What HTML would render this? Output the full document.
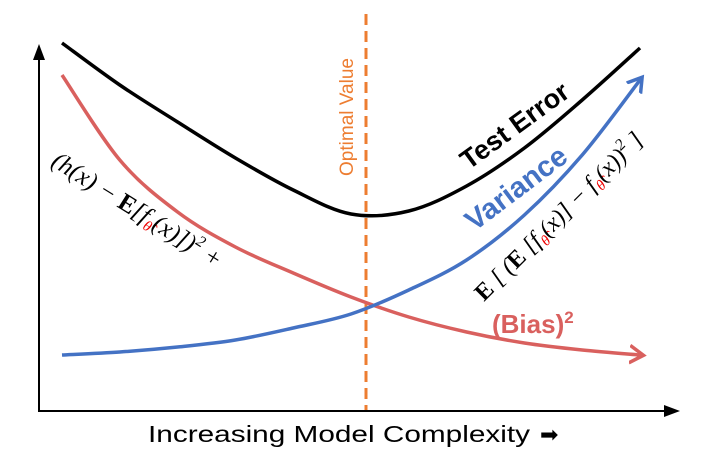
<!DOCTYPE html>
<html><head><meta charset="utf-8"><style>
html,body{margin:0;padding:0;background:#fff;}
svg{display:block;}
.m{font-family:"Liberation Serif",serif;font-style:italic;}
</style></head><body>
<svg id="chart" width="709" height="451" viewBox="0 0 709 451" xmlns="http://www.w3.org/2000/svg">
<defs>
<marker id="arrK" markerWidth="8" markerHeight="8" refX="4" refY="4" orient="auto"><path d="M0,1 L8,4 L0,7 Z" fill="#000"/></marker>
<marker id="arrR" markerWidth="6" markerHeight="6" refX="3" refY="3" orient="auto" markerUnits="strokeWidth"><path d="M0,0.5 L4,3 L0,5.5" fill="none" stroke="#d9605e" stroke-width="1"/></marker>
<marker id="arrB" markerWidth="6" markerHeight="6" refX="3" refY="3" orient="auto" markerUnits="strokeWidth"><path d="M0,0.5 L4,3 L0,5.5" fill="none" stroke="#4472c4" stroke-width="1"/></marker>
</defs>
<line x1="39" y1="411" x2="39" y2="52" stroke="#000" stroke-width="2" marker-end="url(#arrK)"/>
<line x1="38" y1="411" x2="672" y2="411" stroke="#000" stroke-width="2" marker-end="url(#arrK)"/>
<line x1="366" y1="14" x2="366" y2="410" stroke="#ed7d31" stroke-width="3" stroke-dasharray="11,6"/>
<text transform="translate(353,117) rotate(-90)" text-anchor="middle" font-family="Liberation Sans, sans-serif" font-size="19" fill="#ed7d31">Optimal Value</text>
<g id="curves"></g>
<text transform="translate(520,133) rotate(-36)" text-anchor="middle" font-family="Liberation Sans, sans-serif" font-weight="bold" font-size="27" fill="#000">Test Error</text>
<text transform="translate(522,196) rotate(-37)" text-anchor="middle" font-family="Liberation Sans, sans-serif" font-weight="bold" font-size="29" fill="#4472c4">Variance</text>
<text x="492" y="333" font-family="Liberation Sans, sans-serif" font-weight="bold" font-size="26" fill="#d9605e">(Bias)<tspan font-size="17" dy="-10">2</tspan></text>
<text class="m" transform="translate(50,165) rotate(32)" font-size="25" fill="#000">(h(x) − <tspan font-weight="bold" font-style="normal">E</tspan>[f<tspan fill="#e00" font-size="15" dy="5">θ̂</tspan><tspan dy="-5">(x)])</tspan><tspan font-size="16" dy="-10">2</tspan><tspan dy="10"> +</tspan></text>
<text class="m" transform="translate(484,302) rotate(-45)" font-size="24" fill="#000"><tspan font-weight="bold" font-style="normal">E</tspan> [ (<tspan font-weight="bold" font-style="normal">E</tspan> [f<tspan fill="#e00" font-size="15" dy="5">θ̂</tspan><tspan dy="-5">(x)] − f</tspan><tspan fill="#e00" font-size="15" dy="5">θ̂</tspan><tspan dy="-5">(x))</tspan><tspan font-size="16" dy="-10">2</tspan><tspan dy="10"> ]</tspan></text>
<text x="148" y="442" font-family="Liberation Sans, sans-serif" font-size="23" fill="#000" textLength="382" lengthAdjust="spacingAndGlyphs">Increasing Model Complexity</text>
<text x="540" y="442" font-family="DejaVu Sans, sans-serif" font-size="22" fill="#000">➡</text>
</svg>
<script>
const complexity = [0,0.1,0.2,0.3,0.4,0.5,0.6,0.7,0.8,0.9,1.0];
const biasValues = [3.35,2.50,1.98,1.63,1.37,1.13,0.93,0.78,0.67,0.60,0.55];
const varianceValues = [0.55,0.58,0.63,0.70,0.82,0.96,1.20,1.50,1.95,2.55,3.30];
const testErrorValues = [3.67,3.25,2.88,2.52,2.20,1.96,1.99,2.24,2.62,3.10,3.62];

function xScale(v){return 62 + v*578;}
function yScale(v){return 410 - v*100;}
function pathFor(vals){
  const p = complexity.map((c,i)=>[xScale(c),yScale(vals[i])]);
  let d = 'M'+p[0][0]+','+p[0][1];
  for(let i=0;i<p.length-1;i++){
    const p0=p[i-1]||p[i], p1=p[i], p2=p[i+1], p3=p[i+2]||p[i+1];
    const c1=[p1[0]+(p2[0]-p0[0])/6, p1[1]+(p2[1]-p0[1])/6];
    const c2=[p2[0]-(p3[0]-p1[0])/6, p2[1]-(p3[1]-p1[1])/6];
    d+=' C'+c1[0]+','+c1[1]+' '+c2[0]+','+c2[1]+' '+p2[0]+','+p2[1];
  }
  return d;
}
const g = document.getElementById('curves');
const NS='http://www.w3.org/2000/svg';
function addCurve(vals,color,name,marker){
  const el=document.createElementNS(NS,'path');
  el.setAttribute('d',pathFor(vals));
  el.setAttribute('fill','none');
  el.setAttribute('stroke',color);
  el.setAttribute('stroke-width','3.5');
  if(marker) el.setAttribute('marker-end',marker);
  
  
  g.appendChild(el);
}
addCurve(testErrorValues,'#000','test-error-curve',null);
addCurve(biasValues,'#d9605e','bias-curve','url(#arrR)');
addCurve(varianceValues,'#4472c4','variance-curve','url(#arrB)');
</script>
</body></html>
